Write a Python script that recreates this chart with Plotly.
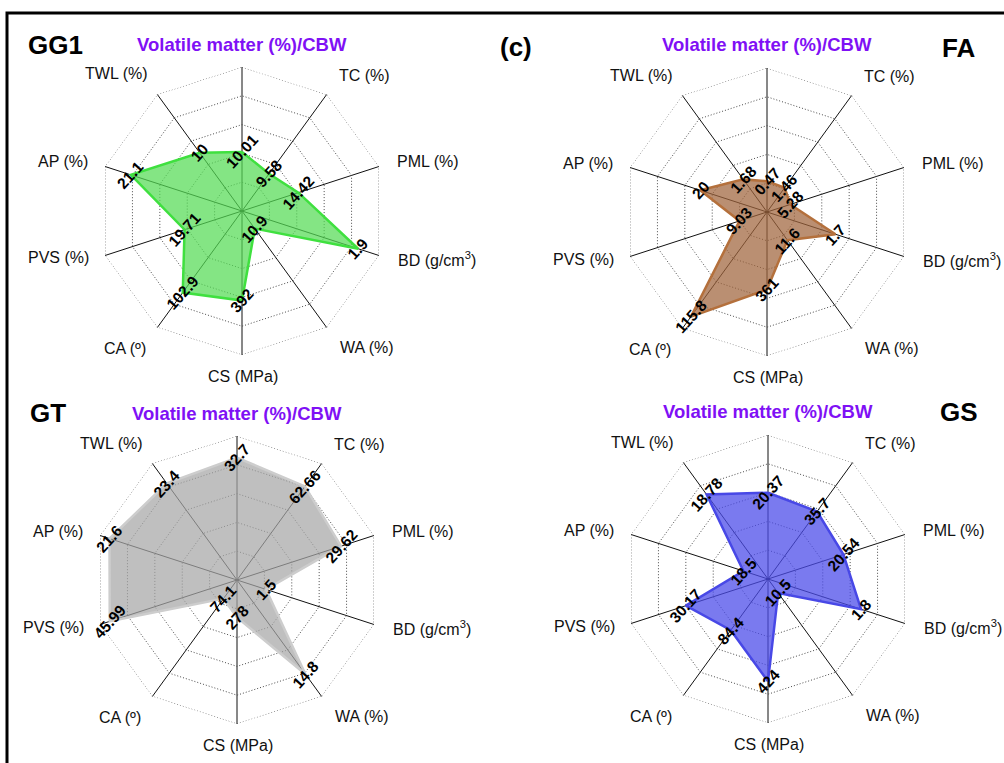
import math
import plotly.graph_objects as go

# Canvas size in pixels
W, H = 1004, 763

# Radar axes, clockwise from the top
axis_names = ["Volatile matter (%)/CBW", "TC (%)", "PML (%)", "BD (g/cm3)", "WA (%)",
              "CS (MPa)", "CA (º)", "PVS (%)", "AP (%)", "TWL (%)"]
axis_text = ["Volatile matter (%)/CBW", "TC (%)", "PML (%)", "BD (g/cm<sup>3</sup>)", "WA (%)",
             "CS (MPa)", "CA (º)", "PVS (%)", "AP (%)", "TWL (%)"]

# Measured properties of each binder
gg1_values = [10.01, 9.58, 14.42, 1.9, 10.9, 392, 102.9, 19.71, 21.1, 10]
fa_values = [0.47, 1.46, 5.28, 1.7, 11.6, 361, 115.8, 9.03, 20, 1.68]
gt_values = [32.7, 62.66, 29.62, 1.5, 14.8, 278, 74.1, 45.99, 21.6, 23.4]
gs_values = [20.37, 35.7, 20.54, 1.8, 10.5, 424, 84.4, 30.17, 18.5, 18.78]

# Full-scale value of every spoke (outer ring) for each panel
gg1_axis_max = [24.4, 30, 35, 2.24, 72, 630, 147, 47, 26, 20]
fa_axis_max = [2.2, 7, 31, 3.4, 48, 670, 129, 45, 41, 6]
gt_axis_max = [38.5, 78, 39, 7.1, 18.3, 1070, 463, 49.5, 23.2, 28.2]
gs_axis_max = [34, 61.6, 37.3, 2.65, 87.5, 597, 192, 50.3, 103, 25.9]

RINGS = 5
R = 144  # polar radius in px

FONT = "Arial, Liberation Sans, sans-serif"
RING_DASH = "1px,2px"
RING_COLOR = "#4a4a4a"

panels = [
    dict(name="GG1", values=gg1_values, amax=gg1_axis_max, center=(242, 211),
         fill="rgba(84,219,84,0.72)", line="#3fe03f"),
    dict(name="FA", values=fa_values, amax=fa_axis_max, center=(767, 212),
         fill="rgba(160,100,60,0.72)", line="#b4703c"),
    dict(name="GT", values=gt_values, amax=gt_axis_max, center=(237, 580),
         fill="rgba(166,166,166,0.72)", line="#cdcdcd"),
    dict(name="GS", values=gs_values, amax=gs_axis_max, center=(768, 579),
         fill="rgba(76,76,234,0.74)", line="#4848e6"),
]

# Axis-label offsets from the chart centre (px, y downward)
label_offsets = [(0, -167), (122, -136), (186, -49), (195, 48), (125, 136),
                 (1, 165), (-117, 137), (-184, 47), (-179, -49), (-126, -137)]


def px(x):
    return x / W


def py(y):
    return 1 - y / H


fig = go.Figure()
annotations = []
layout_polars = {}

for k, p in enumerate(panels):
    pid = "polar" if k == 0 else f"polar{k + 1}"
    cx, cy = p["center"]
    r = [RINGS * v / m for v, m in zip(p["values"], p["amax"])]

    # Outermost dotted ring of the web
    fig.add_trace(go.Scatterpolar(
        r=[RINGS] * (len(axis_names) + 1), theta=axis_names + axis_names[:1],
        mode="lines", line=dict(color=RING_COLOR, width=1, dash=RING_DASH),
        subplot=pid, showlegend=False, hoverinfo="skip",
    ))
    fig.add_trace(go.Scatterpolar(
        r=r + r[:1], theta=axis_names + axis_names[:1],
        mode="lines", fill="toself", fillcolor=p["fill"],
        line=dict(color=p["line"], width=2.5),
        subplot=pid, showlegend=False, hoverinfo="skip",
    ))
    layout_polars[pid] = dict(
        domain=dict(x=[px(cx - R), px(cx + R)], y=[py(cy + R), py(cy - R)]),
        gridshape="linear",
        bgcolor="rgba(0,0,0,0)",
        angularaxis=dict(direction="clockwise", rotation=90, type="category",
                         categoryarray=axis_names,
                         showticklabels=False, ticks="", showline=False,
                         gridcolor="#111111", gridwidth=1),
        radialaxis=dict(range=[0, RINGS], dtick=1, tick0=0, showticklabels=False,
                        ticks="", showline=False, gridcolor=RING_COLOR,
                        griddash=RING_DASH, gridwidth=1),
    )

    # Spoke labels
    for i, (txt, (dx, dy)) in enumerate(zip(axis_text, label_offsets)):
        if i == 0:
            annotations.append(dict(
                x=px(cx + dx), y=py(cy + dy), xref="paper", yref="paper",
                text=f"<b>{txt}</b>", showarrow=False,
                font=dict(family=FONT, size=18.5, color="#7f10f5"),
                xanchor="center", yanchor="middle"))
        else:
            annotations.append(dict(
                x=px(cx + dx), y=py(cy + dy), xref="paper", yref="paper",
                text=txt, showarrow=False,
                font=dict(family=FONT, size=16, color="#111111"),
                xanchor="center", yanchor="middle"))

    # Value labels placed on each vertex
    for i, (v, rv) in enumerate(zip(p["values"], r)):
        ang = math.radians(90 - 36 * i)
        dist = rv / RINGS * R
        annotations.append(dict(
            x=px(cx + dist * math.cos(ang)), y=py(cy - dist * math.sin(ang)),
            xref="paper", yref="paper", text=f"<b>{v:g}</b>", showarrow=False,
            textangle=-48, font=dict(family=FONT, size=15.5, color="#000000"),
            xanchor="center", yanchor="middle"))

# Panel letters
for txt, x, y in [("GG1", 55, 45), ("(c)", 516, 47), ("FA", 958, 48),
                  ("GT", 48, 413), ("GS", 959, 412)]:
    annotations.append(dict(
        x=px(x), y=py(y), xref="paper", yref="paper", text=f"<b>{txt}</b>",
        showarrow=False, font=dict(family=FONT, size=26, color="#000000"),
        xanchor="center", yanchor="middle"))

fig.update_layout(
    width=W, height=H,
    margin=dict(l=0, r=0, t=0, b=0),
    paper_bgcolor="white", plot_bgcolor="white",
    annotations=annotations,
    shapes=[dict(type="rect", xref="paper", yref="paper",
                 x0=px(7), y0=py(13), x1=px(1012), y1=py(772),
                 line=dict(color="black", width=3))],
    **layout_polars,
)

fig.write_html("out.html")
